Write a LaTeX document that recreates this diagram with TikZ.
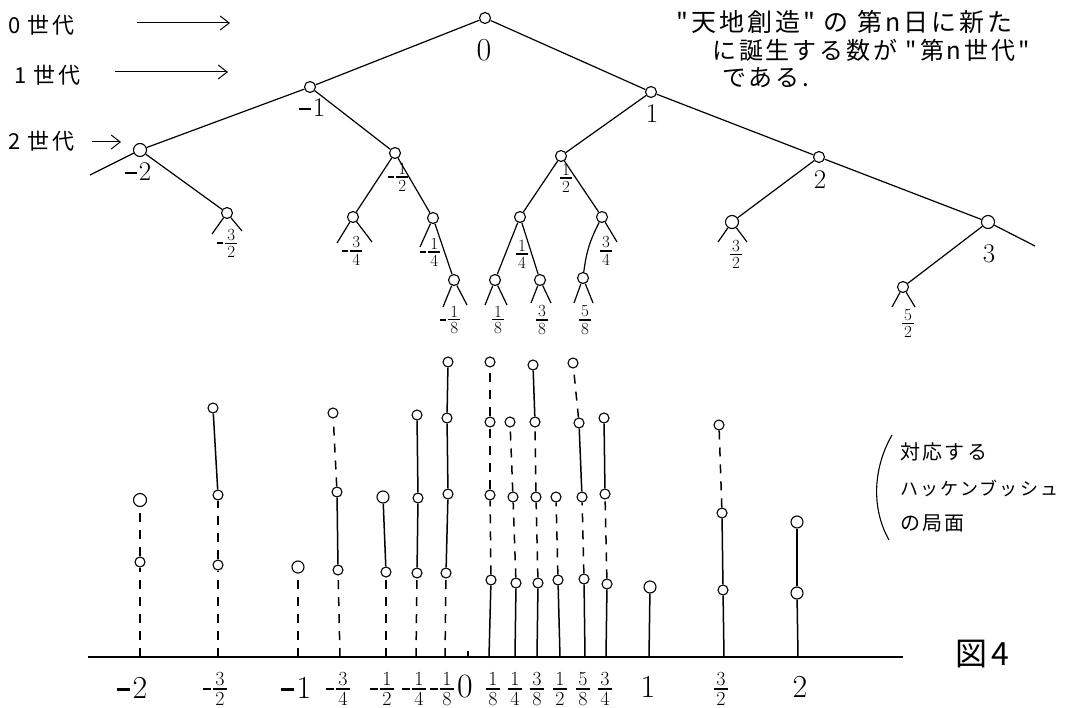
\RequirePackage{fix-cm}
\documentclass[tikz,border=0pt]{standalone}
\usepackage{fontspec}
\newfontfamily\jp[LetterSpace=12]{Noto Sans CJK JP}
\usetikzlibrary{arrows.meta}
\newcommand\mn[1][0.36em]{\rule[0.25em]{#1}{0.07em}\kern0.08em}
\newcommand\fr[2]{\ensuremath{\vcenter{\offinterlineskip\halign{\hfil##\hfil\cr #1\cr\noalign{\kern0.13em}\rule{0.72em}{0.07em}\cr\noalign{\kern0.13em}#2\cr}}}}
\newcommand\nfr[2]{\ensuremath{\vcenter{\hbox{\rule{0.4em}{0.07em}}}\kern0.1em\fr{#1}{#2}}}
\begin{document}
\begin{tikzpicture}[x=1pt,y=-1pt,
  vtx/.style={circle,draw,line width=1.1pt,fill=white,inner sep=0pt,minimum size=11pt},
  dotv/.style={circle,draw,line width=1.1pt,fill=white,inner sep=0pt,minimum size=10pt},
  edge/.style={line width=1.2pt},
  negseg/.style={line width=1.5pt,dash pattern=on 9pt off 8pt},
  posseg/.style={line width=1.5pt},
  lab/.style={font=\fontsize{17}{19}\selectfont,inner sep=0pt},
  ilab/.style={font=\fontsize{27}{30}\selectfont,inner sep=0pt},
  blab/.style={font=\fontsize{20}{22}\selectfont,inner sep=0pt},
  bilab/.style={font=\fontsize{32}{34}\selectfont,inner sep=0pt},
  jtxt/.style={font=\jp\fontsize{24}{28}\selectfont,inner sep=0pt,anchor=west},
  arr/.style={line width=1pt,-{Straight Barb[length=9pt,width=14pt]}},
]
\useasboundingbox (0,0) rectangle (1067,708);

% ---------------- tree ----------------
\node[vtx] (n0) at (485,18) {};
\node[vtx] (nm1) at (310,87) {};
\node[vtx] (n1) at (651,92) {};
\node[vtx,minimum size=13pt] (nm2) at (140,150) {};
\node[vtx] (nmh) at (395,153) {};
\node[vtx] (nh) at (561,156) {};
\node[vtx] (n2) at (819,157) {};
\node[vtx,minimum size=13pt] (n3) at (988,222) {};
\node[vtx] (nm32) at (227,213) {};
\node[vtx] (nm34) at (353,217) {};
\node[vtx] (nm14) at (433,218) {};
\node[vtx] (n14) at (520,217) {};
\node[vtx] (n34) at (602,217) {};
\node[vtx,minimum size=13pt] (n32) at (732,222) {};
\node[vtx] (nm18) at (454,280) {};
\node[vtx] (n18) at (495,280) {};
\node[vtx] (n38) at (540,280) {};
\node[vtx] (n58) at (583,278) {};
\node[vtx] (n52) at (903,287) {};

\coordinate (eL) at (90,175);
\coordinate (eR) at (1035,246);

\draw[edge] (n0) -- (nm1);
\draw[edge] (n0) -- (n1);
\draw[edge] (nm1) -- (nm2);
\draw[edge] (nm2) -- (eL);
\draw[edge] (nm1) -- (nmh);
\draw[edge] (n1) -- (nh);
\draw[edge] (n1) -- (n2);
\draw[edge] (n2) -- (n3);
\draw[edge] (n3) -- (eR);
\draw[edge] (nm2) -- (nm32);
\draw[edge] (nmh) -- (nm34);
\draw[edge] (nmh) -- (nm14);
\draw[edge] (nm14) -- (nm18);
\draw[edge] (nh) -- (n14);
\draw[edge] (nh) -- (n34);
\draw[edge] (n14) -- (n18);
\draw[edge] (n14) -- (n38);
\draw[edge] (n34) to[bend right=10] (n58);
\draw[edge] (n2) -- (n32);
\draw[edge] (n3) -- (n52);

% stubs
\draw[edge] (nm32) -- ++(-15,21);  \draw[edge] (nm32) -- ++(15,18);
\draw[edge] (nm34) -- ++(-16,26);  \draw[edge] (nm34) -- ++(19,25);
\draw[edge] (nm14) -- ++(-13,29);
\draw[edge] (nm18) -- ++(-11,27);  \draw[edge] (nm18) -- ++(13,25);
\draw[edge] (n18) -- ++(-10,25);   \draw[edge] (n18) -- ++(12,25);
\draw[edge] (n38) -- ++(-9,23);    \draw[edge] (n38) -- ++(11,23);
\draw[edge] (n58) -- ++(-9,25);    \draw[edge] (n58) -- ++(10,25);
\draw[edge] (n34) -- ++(15,25);
\draw[edge] (n32) -- ++(-14,20);   \draw[edge] (n32) -- ++(15,20);
\draw[edge] (n52) -- ++(-11,20);   \draw[edge] (n52) -- ++(12,20);

% tree labels
\node[ilab,font=\fontsize{32}{34}\selectfont] (t0) at (484,50) {0};
\node[ilab] (tm1) at (312,108) {\mn[0.45em]1};
\node[ilab] (t1) at (652,114) {1};
\node[ilab] (tm2) at (138,172) {\mn[0.45em]2};
\node[lab] (tmh) at (398,177) {\nfr{1}{2}};
\node[lab] (th) at (566,178) {\fr{1}{2}};
\node[ilab] (t2) at (820,180) {2};
\node[ilab] (t3) at (989,254) {3};
\node[lab] (tm32) at (227,243) {\nfr{3}{2}};
\node[lab] (tm34) at (352,251) {\nfr{3}{4}};
\node[lab] (tm14) at (430,252) {\nfr{1}{4}};
\node[lab] (t14) at (522,254) {\fr{1}{4}};
\node[lab] (t34) at (606,251) {\fr{3}{4}};
\node[lab] (tm18) at (450,320) {\nfr{1}{8}};
\node[lab] (t18) at (498,320) {\fr{1}{8}};
\node[lab] (t38) at (542,320) {\fr{3}{8}};
\node[lab] (t58) at (585,320) {\fr{5}{8}};
\node[lab] (t32) at (736,254) {\fr{3}{2}};
\node[lab] (t52) at (908,323) {\fr{5}{2}};

% generation labels
\node[jtxt,font=\jp\fontsize{22}{26}\selectfont] (g0) at (8,25) {0 世代};
\node[jtxt,font=\jp\fontsize{22}{26}\selectfont] (g1) at (14,75) {1 世代};
\node[jtxt,font=\jp\fontsize{22}{26}\selectfont] (g2) at (8,141) {2 世代};
\coordinate (a0s) at (137,23);  \coordinate (a0e) at (230,23);
\coordinate (a1s) at (115,72);  \coordinate (a1e) at (228,72);
\coordinate (a2s) at (92,142);  \coordinate (a2e) at (121,142);
\draw[arr] (a0s) -- (a0e);
\draw[arr] (a1s) -- (a1e);
\draw[arr] (a2s) -- (a2e);

% explanation text
\node[jtxt,font=\jp\fontsize{25}{28}\selectfont] (x1) at (676,22) {"天地創造" の 第n日に新た};
\node[jtxt] (x2) at (712,50) {に誕生する数が "第n世代"};
\node[jtxt] (x3) at (722,78) {である.};

% ---------------- Hackenbush ----------------
\coordinate (gl) at (88,657);
\coordinate (gr) at (903,657);
\draw[line width=1.3pt] (gl) -- (gr);
\coordinate (z0) at (468,657);
\draw[line width=1.2pt] (z0) -- ++(0,-6);

% -2
\coordinate (gA) at (140,657);
\node[dotv] (A1) at (140,562) {};
\node[dotv,minimum size=13pt] (A2) at (140,500) {};
\draw[negseg] (gA) -- (A1); \draw[negseg] (A1) -- (A2);
% -3/2
\coordinate (gB) at (218,657);
\node[dotv] (B1) at (218,565) {};
\node[dotv] (B2) at (218,495) {};
\node[dotv] (B3) at (213,408) {};
\draw[negseg] (gB) -- (B1); \draw[negseg] (B1) -- (B2); \draw[posseg] (B2) -- (B3);
% -1
\coordinate (gC) at (298,657);
\node[dotv,minimum size=12pt] (C1) at (298,567) {};
\draw[negseg] (gC) -- (C1);
% -3/4
\coordinate (gD) at (340,657);
\node[dotv] (D1) at (338,570) {};
\node[dotv] (D2) at (337,492) {};
\node[dotv] (D3) at (333,413) {};
\draw[negseg] (gD) -- (D1); \draw[posseg] (D1) -- (D2); \draw[negseg] (D2) -- (D3);
% -1/2
\coordinate (gE) at (386,657);
\node[dotv] (E1) at (386,572) {};
\node[dotv,minimum size=12pt] (E2) at (383,497) {};
\draw[negseg] (gE) -- (E1); \draw[posseg] (E1) -- (E2);
% -1/4
\coordinate (gF) at (416,657);
\node[dotv] (F1) at (417,573) {};
\node[dotv] (F2) at (418,498) {};
\node[dotv] (F3) at (417,415) {};
\draw[negseg] (gF) -- (F1); \draw[posseg] (F1) -- (F2); \draw[posseg] (F2) -- (F3);
% -1/8
\coordinate (gG) at (445,657);
\node[dotv] (G1) at (446,573) {};
\node[dotv] (G2) at (448,494) {};
\node[dotv] (G3) at (447,418) {};
\node[dotv] (G4) at (448,362) {};
\draw[negseg] (gG) -- (G1); \draw[posseg] (G1) -- (G2); \draw[posseg] (G2) -- (G3); \draw[posseg] (G3) -- (G4);
% 1/8
\coordinate (gH) at (489,657);
\node[dotv] (H1) at (491,580) {};
\node[dotv] (H2) at (490,495) {};
\node[dotv] (H3) at (490,422) {};
\node[dotv] (H4) at (490,362) {};
\draw[posseg] (gH) -- (H1); \draw[negseg] (H1) -- (H2); \draw[negseg] (H2) -- (H3); \draw[negseg] (H3) -- (H4);
% 1/4
\coordinate (gI) at (515,657);
\node[dotv] (I1) at (516,583) {};
\node[dotv] (I2) at (513,497) {};
\node[dotv] (I3) at (510,422) {};
\draw[posseg] (gI) -- (I1); \draw[negseg] (I1) -- (I2); \draw[negseg] (I2) -- (I3);
% 3/8
\coordinate (gJ) at (537,657);
\node[dotv] (J1) at (538,583) {};
\node[dotv] (J2) at (536,497) {};
\node[dotv] (J3) at (535,422) {};
\node[dotv] (J4) at (533,365) {};
\draw[posseg] (gJ) -- (J1); \draw[negseg] (J1) -- (J2); \draw[negseg] (J2) -- (J3); \draw[posseg] (J3) -- (J4);
% 1/2
\coordinate (gK) at (560,657);
\node[dotv] (K1) at (558,580) {};
\node[dotv] (K2) at (556,497) {};
\draw[posseg] (gK) -- (K1); \draw[negseg] (K1) -- (K2);
% 5/8
\coordinate (gL) at (585,657);
\node[dotv] (L1) at (584,579) {};
\node[dotv] (L2) at (582,497) {};
\node[dotv] (L3) at (579,423) {};
\node[dotv] (L4) at (573,363) {};
\draw[posseg] (gL) -- (L1); \draw[negseg] (L1) -- (L2); \draw[posseg] (L2) -- (L3); \draw[negseg] (L3) -- (L4);
% 3/4
\coordinate (gM) at (606,657);
\node[dotv] (M1) at (607,584) {};
\node[dotv] (M2) at (605,494) {};
\node[dotv] (M3) at (604,418) {};
\draw[posseg] (gM) -- (M1); \draw[negseg] (M1) -- (M2); \draw[posseg] (M2) -- (M3);
% 1
\coordinate (gN) at (649,657);
\node[dotv,minimum size=12pt] (N1) at (650,587) {};
\draw[posseg] (gN) -- (N1);
% 3/2
\coordinate (gO) at (724,657);
\node[dotv] (O1) at (723,590) {};
\node[dotv] (O2) at (722,513) {};
\node[dotv] (O3) at (719,425) {};
\draw[posseg] (gO) -- (O1); \draw[posseg] (O1) -- (O2); \draw[negseg] (O2) -- (O3);
% 2
\coordinate (gP) at (798,657);
\node[dotv,minimum size=12pt] (P1) at (797,593) {};
\node[dotv,minimum size=12pt] (P2) at (797,522) {};
\draw[posseg] (gP) -- (P1); \draw[posseg] (P1) -- (P2);

% axis labels
\node[bilab] (bA) at (132,688) {\mn[0.42em]2};
\node[blab] (bB) at (215,689) {\nfr{3}{2}};
\node[bilab] (bC) at (296,688) {\mn[0.42em]1};
\node[blab] (bD) at (338,689) {\nfr{3}{4}};
\node[blab] (bE) at (382,689) {\nfr{1}{2}};
\node[blab] (bF) at (414,689) {\nfr{1}{4}};
\node[blab] (bG) at (442,689) {\nfr{1}{8}};
\node[bilab,font=\fontsize{34}{38}\selectfont] (bZ) at (465,687) {0};
\node[blab] (bH) at (493,689) {\fr{1}{8}};
\node[blab] (bI) at (515,689) {\fr{1}{4}};
\node[blab] (bJ) at (537,689) {\fr{3}{8}};
\node[blab] (bK) at (560,689) {\fr{1}{2}};
\node[blab] (bL) at (583,689) {\fr{5}{8}};
\node[blab] (bM) at (605,689) {\fr{3}{4}};
\node[bilab] (bN) at (648,687) {1};
\node[blab] (bO) at (721,689) {\fr{3}{2}};
\node[bilab] (bP) at (800,687) {2};

% side note
\coordinate (pa) at (892,435);
\coordinate (pb) at (889,540);
\draw[line width=1.1pt] (pa) .. controls (872,470) and (872,510) .. (pb);
\node[jtxt,font=\jp\fontsize{20}{24}\selectfont] (s1) at (900,452) {対応する};
\node[jtxt,font=\jp\fontsize{18}{24}\selectfont] (s2) at (900,488) {ハッケンブッシュ};
\node[jtxt,font=\jp\fontsize{20}{24}\selectfont] (s3) at (900,523) {の局面};
\node[jtxt,font=\jp\fontsize{32}{36}\selectfont] (fig) at (955,654) {図4};
\end{tikzpicture}
\end{document}
